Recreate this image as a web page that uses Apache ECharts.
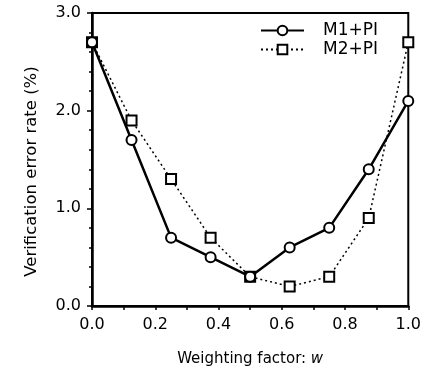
<!DOCTYPE html>
<html>
<head>
<meta charset="utf-8">
<script src="https://cdn.jsdelivr.net/npm/echarts@6/dist/echarts.min.js"></script>
<style>
html,body{margin:0;padding:0;background:#fff;}
#chart{width:424px;height:372px;}
</style>
</head>
<body>
<div id="chart"></div>
<script>
var weights = [0, 0.125, 0.25, 0.375, 0.5, 0.625, 0.75, 0.875, 1.0];
var m1pi = [2.7, 1.7, 0.7, 0.5, 0.3, 0.6, 0.8, 1.4, 2.1];
var m2pi = [2.7, 1.9, 1.3, 0.7, 0.3, 0.2, 0.3, 0.9, 2.7];
var seriesNames = ['M1+PI', 'M2+PI'];

function pairs(xs, ys) { return xs.map(function (x, i) { return [x, ys[i]]; }); }

var FONT = 'DejaVu Sans';
var chart = echarts.init(document.getElementById('chart'), null, {renderer: 'canvas'});
chart.setOption({
  animation: false,
  backgroundColor: '#fff',
  textStyle: {fontFamily: FONT, color: '#000'},
  grid: {left: 92, right: 13, top: 13, bottom: 66, show: true, borderColor: '#000', borderWidth: 2, backgroundColor: 'transparent'},
  legend: {
    orient: 'vertical', left: 255, top: 17,
    itemWidth: 43, itemHeight: 12, itemGap: 2,
    textStyle: {fontFamily: FONT, fontSize: 17, color: '#000', padding: [0, 0, 0, 14]},
    data: seriesNames
  },
  xAxis: {
    type: 'value', min: 0, max: 1, interval: 0.2,
    name: 'Weighting factor: {i|w}', nameLocation: 'middle', nameGap: 46,
    nameTextStyle: {fontFamily: FONT, fontSize: 15, color: '#000',
      rich: {i: {fontFamily: FONT, fontSize: 15, fontStyle: 'italic', color: '#000'}}},
    axisLine: {lineStyle: {color: '#000', width: 2.5}},
    axisTick: {inside: false, length: 4, lineStyle: {color: '#000', width: 1.5}},
    minorTick: {show: true, splitNumber: 2, length: 4, lineStyle: {color: '#000', width: 1.5}},
    axisLabel: {fontFamily: FONT, fontSize: 16, color: '#000', margin: 11,
      formatter: function (v) { return v.toFixed(1); }},
    splitLine: {show: false}
  },
  yAxis: {
    type: 'value', min: 0, max: 3, interval: 1,
    name: 'Verification error rate (%)', nameLocation: 'middle', nameGap: 52,
    nameTextStyle: {fontFamily: FONT, fontSize: 16.5, color: '#000', padding: [0, 24, 0, 0]},
    axisLine: {lineStyle: {color: '#000', width: 2.5}},
    axisTick: {inside: false, length: 5, lineStyle: {color: '#000', width: 1.5}},
    minorTick: {show: true, splitNumber: 5, length: 3, lineStyle: {color: '#000', width: 1.5}},
    axisLabel: {fontFamily: FONT, fontSize: 16, color: '#000', margin: 11,
      formatter: function (v) { return v.toFixed(1); }},
    splitLine: {show: false}
  },
  series: [
    {
      name: seriesNames[0], type: 'line', data: pairs(weights, m1pi),
      symbol: 'circle', symbolSize: 10, z: 3,
      lineStyle: {color: '#000', width: 2.5, type: 'solid'},
      itemStyle: {color: '#fff', borderColor: '#000', borderWidth: 2}
    },
    {
      name: seriesNames[1], type: 'line', data: pairs(weights, m2pi),
      symbol: 'rect', symbolSize: 10, z: 2,
      lineStyle: {color: '#000', width: 1.5, type: [2, 3]},
      itemStyle: {color: '#fff', borderColor: '#000', borderWidth: 2}
    }
  ]
});
</script>
</body>
</html>
